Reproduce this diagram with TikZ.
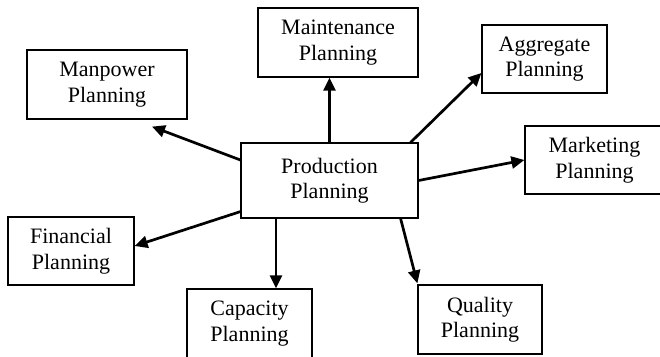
\documentclass[tikz,border=0pt]{standalone}
\usepackage{fontspec}
\setmainfont{Liberation Serif}
\usetikzlibrary{arrows.meta}
\begin{document}
\begin{tikzpicture}[x=1pt,y=1pt,
  box/.style={draw, line width=1.2pt, rectangle, align=center, inner sep=0pt,
    font=\fontsize{22}{25.5}\selectfont},
  arr/.style={line width=2.7pt, -{Triangle[length=13pt,width=12pt]}}]
\useasboundingbox (0,0) rectangle (660,356);
\clip (0,0) rectangle (660,356);
\node[box, minimum width=160pt, minimum height=69pt] (manpower) at (107,271.5) {Manpower\\Planning};
\node[box, minimum width=160pt, minimum height=69pt] (maint) at (338,313.5) {Maintenance\\Planning};
\node[box, minimum width=125pt, minimum height=68pt] (aggr) at (544.5,297) {Aggregate\\Planning};
\node[box, minimum width=139pt, minimum height=68pt] (market) at (594.5,196) {Marketing\\Planning};
\node[box, minimum width=177pt, minimum height=75pt] (prod) at (329.5,175.5) {Production\\Planning};
\node[box, minimum width=126pt, minimum height=68pt] (fin) at (71,105) {Financial\\Planning};
\node[box, minimum width=125pt, minimum height=69pt] (cap) at (249.5,32.5) {Capacity\\Planning};
\node[box, minimum width=124pt, minimum height=69pt] (quality) at (480,36.5) {Quality\\Planning};
\draw[arr] ([yshift=20.5pt]prod.west) -- ([xshift=45pt,yshift=-7pt]manpower.south);
\draw[arr] (prod.north) -- (prod.north |- maint.south);
\draw[arr] ([xshift=-8pt]prod.north east) -- ([yshift=-14pt]aggr.west);
\draw[arr] (prod.east) -- (market.west);
\draw[arr] ([yshift=7pt]prod.south west) -- ([yshift=5pt]fin.east);
\draw[arr] ([xshift=-53.5pt]prod.south) -- ([xshift=-53.5pt]prod.south |- cap.north);
\draw[arr] ([xshift=-18pt]prod.south east) -- ([yshift=1pt]quality.north west);
\end{tikzpicture}
\end{document}
